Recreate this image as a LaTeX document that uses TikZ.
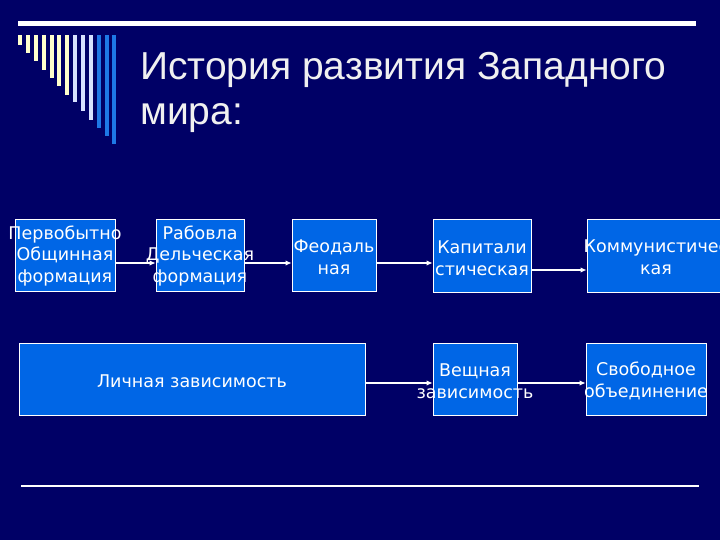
\documentclass[tikz,border=0pt]{standalone}
\usepackage{fontspec}
\setmainfont{Liberation Sans}
\newfontfamily\boxfont{DejaVu Sans}
\usetikzlibrary{arrows.meta, positioning}
\definecolor{slideBg}{RGB}{0,0,102}
\definecolor{boxBlue}{RGB}{0,102,230}
\definecolor{barCream}{RGB}{255,255,204}
\definecolor{barPale}{RGB}{215,225,255}
\definecolor{barBlue}{RGB}{30,120,230}
\definecolor{titleWhite}{RGB}{240,240,240}

\begin{document}
\begin{tikzpicture}[
    x=1pt, y=-1pt,
    stage/.style={draw=white, line width=0.9pt, fill=boxBlue, inner sep=0pt},
    stagetext/.style={text=white, align=center, inner sep=0pt,
                      font=\boxfont\fontsize{17.5}{21.5}\selectfont},
    flow/.style={draw=white, line width=1.1pt, -{Latex[length=6pt,width=5.5pt]}},
    title/.style={text=titleWhite, anchor=base west, inner sep=0pt,
                  font=\fontsize{39}{45}\selectfont}
  ]
    \fill[slideBg] (0,0) rectangle (720,540);
    \useasboundingbox (0,0) rectangle (720,540);
    \clip (0,0) rectangle (720,540);

    % header rule and bars
    \draw[white, line width=5.5pt] (18,23.5) -- (696,23.5);
    \foreach \bx/\by/\bc in {20/45/barCream, 28/53/barCream, 36/61/barCream,
        44/70/barCream, 52/78/barCream, 59/86/barCream, 67/95/barCream,
        75/102/barPale, 83/111/barPale, 91/120/barPale,
        99/128/barBlue, 107/136/barBlue, 114/144/barBlue}
      \fill[\bc] (\bx-2,35) rectangle (\bx+2,\by);

    \node[title] (ttl1) at (140,80) {История развития Западного};
    \node[title] (ttl2) at (140,125) {мира:};

    % formations
    \node[stage, minimum width=100pt, minimum height=72pt] (prim) at (65,255) {};
    \node[stage, minimum width=88pt, minimum height=72pt] (slave) at (200,255) {};
    \node[stage, minimum width=84pt, minimum height=72pt] (feud) at (334,255) {};
    \node[stage, minimum width=98pt, minimum height=73pt] (capit) at (482,255.5) {};
    \node[stage, minimum width=146pt, minimum height=73pt] (comm) at (660,255.5) {};

    % dependencies
    \node[stage, minimum width=346pt, minimum height=72pt] (person) at (192,379) {};
    \node[stage, minimum width=84pt, minimum height=72pt] (thing) at (475,379) {};
    \node[stage, minimum width=120pt, minimum height=72pt] (free) at (646,379) {};

    \node[stagetext] (primT) at (65,256) {Первобытно\\Общинная\\формация};
    \node[stagetext] (slaveT) at (200,256) {Рабовла\\Дельческая\\формация};
    \node[stagetext] (feudT) at (334,257) {Феодаль\\ная};
    \node[stagetext] (capitT) at (482,258) {Капитали\\стическая};
    \node[stagetext] (commT) at (656,257) {Коммунистичес\\кая};
    \node[stagetext] (personT) at (192,381) {Личная зависимость};
    \node[stagetext] (thingT) at (475,381) {Вещная\\зависимость};
    \node[stagetext] (freeT) at (646,381) {Свободное\\объединение};

    \draw[flow] ([yshift=-8pt]prim.east) -- ([yshift=-8pt]slave.west);
    \draw[flow] ([yshift=-8pt]slave.east) -- ([yshift=-8pt]feud.west);
    \draw[flow] ([yshift=-8pt]feud.east) -- ([yshift=-7.5pt]capit.west);
    \draw[flow, line width=1.6pt] ([yshift=-14.5pt]capit.east) -- ([yshift=-14.5pt]comm.west);
    \draw[flow] ([yshift=-4pt]person.east) -- ([yshift=-4pt]thing.west);
    \draw[flow] ([yshift=-4pt]thing.east) -- ([yshift=-4pt]free.west);

    % footer rule
    \draw[white, line width=1.2pt] (21,486) -- (699,486);
  \end{tikzpicture}
\end{document}
